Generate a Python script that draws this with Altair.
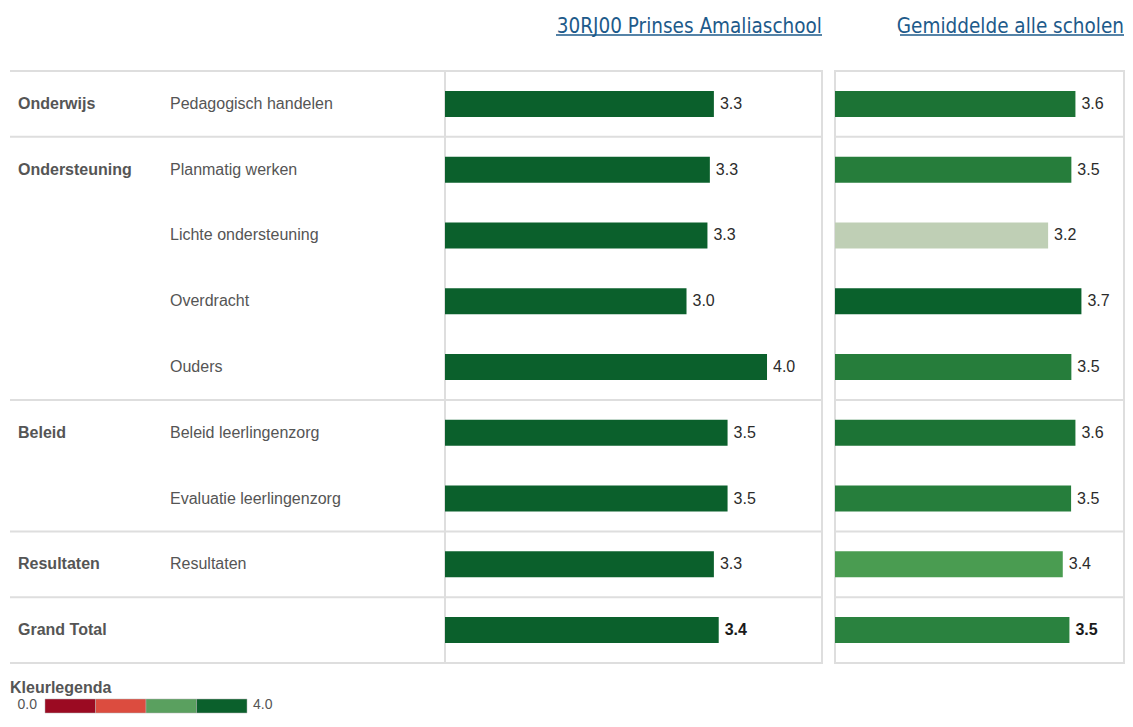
import altair as alt
import pandas as pd

# ---------------- data ----------------
groups = ["Onderwijs", "Ondersteuning", "", "", "", "Beleid", "", "Resultaten", "Grand Total"]
subgroups = ["Pedagogisch handelen", "Planmatig werken", "Lichte ondersteuning", "Overdracht",
             "Ouders", "Beleid leerlingenzorg", "Evaluatie leerlingenzorg", "Resultaten", ""]
school_values = [3.34, 3.29, 3.26, 3.00, 4.00, 3.51, 3.51, 3.34, 3.40]
average_values = [3.61, 3.549, 3.20, 3.70, 3.549, 3.61, 3.545, 3.42, 3.52]

school_title = "30RJ00 Prinses Amaliaschool"
average_title = "Gemiddelde alle scholen"

legend_title = "Kleurlegenda"
legend_starts = [0, 1, 2, 3]
legend_stops = [1, 2, 3, 4]
legend_colors = ["#9b0a22", "#dc4c3f", "#5aa05f", "#0b602c"]
legend_ends = [0.0, 4.0]

avg_color_domain = [3.2, 3.42, 3.52, 3.56, 3.61, 3.7]
avg_color_range = ["#bfcfb5", "#4a9c51", "#2a823f", "#247b3a", "#1c7335", "#0a612c"]

# ---------------- frames ----------------
df = pd.DataFrame({
    "row": list(range(len(groups))),
    "group": groups,
    "subgroup": subgroups,
    "school": school_values,
    "average": average_values,
})
df_leg = pd.DataFrame({"start": legend_starts, "stop": legend_stops})
df_ends = pd.DataFrame({"v": legend_ends})

# layout (pixels relative to the left bar panel's origin)
LEFT_W, H = 377, 592
LABEL_W = 435
R0, R1 = 390, 679           # right panel span
R_UNIT = 66.6               # pixels per unit in the right panel
LEG0, LEG1 = -400, -198     # colour legend span
GRID = "#dedede"
TITLE_COLOR = "#1d5a8a"
TXT = "#555555"
FONT = "Liberation Sans"
TITLE_FONT = "DejaVu Sans Condensed, DejaVu Sans"

yenc = alt.Y("row:O", axis=None, scale=alt.Scale(paddingInner=0, paddingOuter=0))
thresh = alt.Scale(type="threshold", domain=[1, 2, 3], range=legend_colors)
base = alt.Chart(df)


def header(title, right, tw):
    src = alt.Chart(pd.DataFrame({"t": [title]}))
    t = src.mark_text(align="right", baseline="alphabetic", fontSize=20.5, font=TITLE_FONT,
                      color=TITLE_COLOR).encode(text="t:N", x=alt.value(right), y=alt.value(-38))
    u = src.mark_rule(color=TITLE_COLOR, strokeWidth=1.5).encode(
        x=alt.value(right - tw), x2=alt.value(right), y=alt.value(-36))
    return [t, u]


def separators(x0, x1):
    top = base.transform_filter("datum.group != ''").mark_rule(color=GRID, strokeWidth=2).encode(
        y=alt.Y("row:O", bandPosition=0, axis=None), x=alt.value(x0), x2=alt.value(x1))
    bottom = base.transform_filter(f"datum.row == {len(groups) - 1}").mark_rule(
        color=GRID, strokeWidth=2).encode(
        y=alt.Y("row:O", bandPosition=1, axis=None), x=alt.value(x0), x2=alt.value(x1))
    return [top, bottom]


def value_labels(field, xenc):
    normal = base.transform_filter("datum.group != 'Grand Total'").mark_text(
        align="left", baseline="middle", dx=6, fontSize=16, font=FONT, color="#2b2b2b"
    ).encode(x=xenc, y=yenc, text=alt.Text(f"{field}:Q", format=".1f"))
    total = base.transform_filter("datum.group == 'Grand Total'").mark_text(
        align="left", baseline="middle", dx=6, fontSize=16, font=FONT, color="#1a1a1a",
        fontWeight="bold"
    ).encode(x=xenc, y=yenc, text=alt.Text(f"{field}:Q", format=".1f"))
    return [normal, total]


# ---------------- left panel ----------------
lx = alt.X("school:Q", axis=None, scale=alt.Scale(domain=[0, 4.683], nice=False, zero=True))
l_bars = base.mark_bar(size=26).encode(
    x=lx, y=yenc, color=alt.Color("school:Q", scale=thresh, legend=None))
g_lab = base.mark_text(align="left", baseline="middle", fontSize=16, font=FONT,
                       fontWeight="bold", color=TXT).encode(
    x=alt.value(-LABEL_W + 8), y=yenc, text="group:N")
s_lab = base.mark_text(align="left", baseline="middle", fontSize=16, font=FONT,
                       color=TXT).encode(
    x=alt.value(-LABEL_W + 160), y=yenc, text="subgroup:N")

# ---------------- right panel ----------------
rx = alt.X("average:Q", axis=None,
           scale=alt.Scale(domain=[0, (R1 - R0) / R_UNIT], range=[R0, R1], nice=False, zero=True))
r_bars = base.mark_bar(size=26).encode(
    x=rx, y=yenc,
    color=alt.Color("average:Q", scale=alt.Scale(domain=avg_color_domain, range=avg_color_range),
                    legend=None))
r_frame = alt.Chart(pd.DataFrame({"t": [0]})).mark_rect(
    fill=None, stroke=GRID, strokeWidth=2).encode(
    x=alt.value(R0), x2=alt.value(R1), y=alt.value(0), y2=alt.value(H))

# ---------------- colour legend ----------------
LEG_TOP, LEG_BOT, LEG_MID = 628, 642, 634
legx = alt.X("start:Q", axis=None, scale=alt.Scale(domain=[0, 4], range=[LEG0, LEG1], nice=False))
leg_rect = alt.Chart(df_leg).mark_rect(stroke="#b0b0b0", strokeWidth=0.5).encode(
    x=legx, x2="stop:Q", y=alt.value(LEG_TOP), y2=alt.value(LEG_BOT),
    color=alt.Color("start:Q", scale=thresh, legend=None))
endx = alt.X("v:Q", axis=None, scale=alt.Scale(domain=[0, 4], range=[LEG0, LEG1], nice=False))
leg_lo = alt.Chart(df_ends).transform_filter("datum.v == 0").mark_text(
    align="right", baseline="middle", dx=-8, fontSize=14, font=FONT, color=TXT
).encode(x=endx, y=alt.value(LEG_MID), text=alt.Text("v:Q", format=".1f"))
leg_hi = alt.Chart(df_ends).transform_filter("datum.v == 4").mark_text(
    align="left", baseline="middle", dx=6, fontSize=14, font=FONT, color=TXT
).encode(x=endx, y=alt.value(LEG_MID), text=alt.Text("v:Q", format=".1f"))
leg_title = alt.Chart(pd.DataFrame({"t": [legend_title]})).mark_text(
    align="left", baseline="middle", fontSize=16, font=FONT, fontWeight="bold", color=TXT
).encode(x=alt.value(-LABEL_W), y=alt.value(617), text="t:N")

layers = (
    separators(-LABEL_W, LEFT_W) + separators(R0, R1) + [r_frame]
    + [l_bars] + value_labels("school", lx) + [g_lab, s_lab]
    + [r_bars] + value_labels("average", rx)
    + header(school_title, LEFT_W, 266) + header(average_title, R1, 224)
    + [leg_rect, leg_lo, leg_hi, leg_title]
)

chart = alt.layer(*layers).resolve_scale(x="independent", color="independent").properties(
    width=LEFT_W, height=H,
    autosize=alt.AutoSizeParams(type="none"),
    padding={"left": 437, "top": 63, "right": 303, "bottom": 51},
).configure_view(stroke=GRID, strokeWidth=2)

chart.save("out.html", embed_options={"renderer": "svg", "actions": False})
